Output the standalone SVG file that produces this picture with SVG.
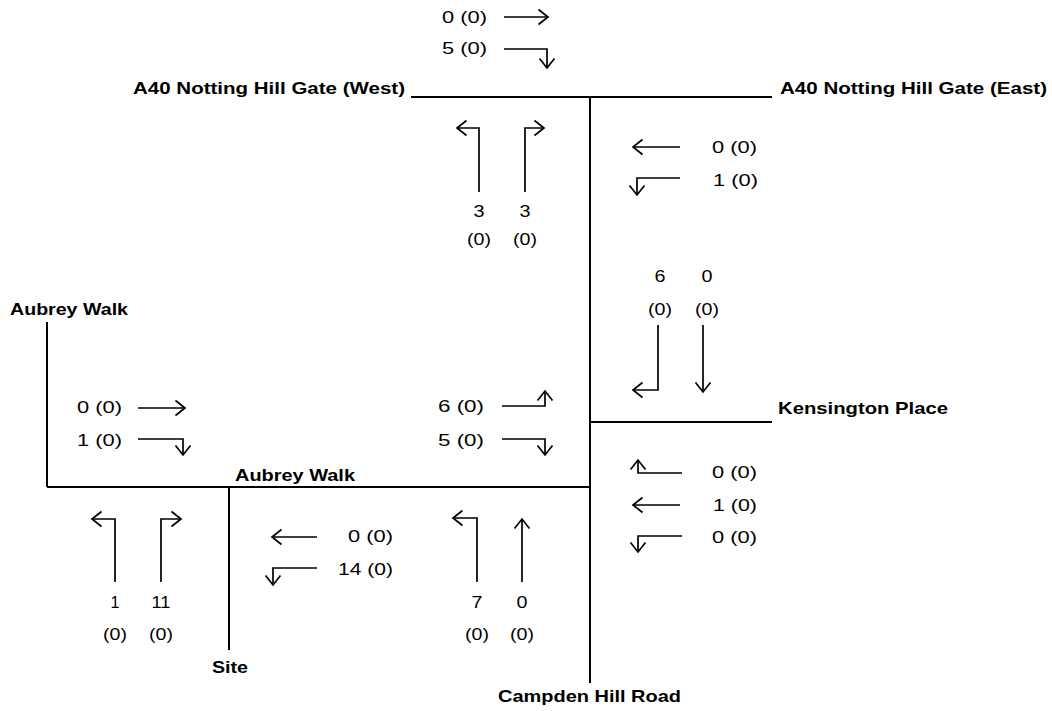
<svg xmlns="http://www.w3.org/2000/svg" width="1052" height="711" viewBox="0 0 1052 711">
<style>
text{font-family:"Liberation Sans",Arial,sans-serif;font-size:16.5px;fill:#000}
.lb{font-weight:bold}
.c{text-anchor:middle}
.road{stroke:#000;stroke-width:2;fill:none}
.arr{stroke:#000;stroke-width:1.7;fill:none;marker-end:url(#ah)}
</style>
<defs>
<marker id="ah" markerUnits="userSpaceOnUse" viewBox="-12 -10 14 20" refX="0" refY="0" markerWidth="14" markerHeight="20" orient="auto">
<path d="M-9.5,-7.5 L0,0 L-9.5,7.5" fill="none" stroke="#000" stroke-width="1.7"/>
</marker>
</defs>
<rect width="1052" height="711" fill="#fff"/>

<g id="roads">
<path class="road" d="M411,97 H772"/>
<path class="road" d="M590,97 V683"/>
<path class="road" d="M590,422 H772"/>
<path class="road" d="M47,487 H590"/>
<path class="road" d="M47,322 V487"/>
<path class="road" d="M229,487 V650"/>
</g>

<g id="label-west"><text class="lb" x="133" y="94" textLength="272" lengthAdjust="spacingAndGlyphs">A40 Notting Hill Gate (West)</text></g>
<g id="label-east"><text class="lb" x="780" y="94" textLength="267" lengthAdjust="spacingAndGlyphs">A40 Notting Hill Gate (East)</text></g>
<g id="label-aubrey-north"><text class="lb" x="10" y="315" textLength="118" lengthAdjust="spacingAndGlyphs">Aubrey Walk</text></g>
<g id="label-kensington"><text class="lb" x="778" y="414" textLength="170" lengthAdjust="spacingAndGlyphs">Kensington Place</text></g>
<g id="label-aubrey"><text class="lb" x="235" y="481" textLength="120" lengthAdjust="spacingAndGlyphs">Aubrey Walk</text></g>
<g id="label-site"><text class="lb" x="212" y="673" textLength="36" lengthAdjust="spacingAndGlyphs">Site</text></g>
<g id="label-campden"><text class="lb" x="498" y="702" textLength="183" lengthAdjust="spacingAndGlyphs">Campden Hill Road</text></g>

<g id="counts-west-approach">
<text x="442" y="23" textLength="45" lengthAdjust="spacingAndGlyphs">0 (0)</text>
<text x="442" y="54" textLength="45" lengthAdjust="spacingAndGlyphs">5 (0)</text>
</g>
<g id="counts-north-exit">
<text class="c" x="479" y="217" textLength="11" lengthAdjust="spacingAndGlyphs">3</text>
<text class="c" x="525" y="217" textLength="11" lengthAdjust="spacingAndGlyphs">3</text>
<text class="c" x="479" y="245" textLength="24" lengthAdjust="spacingAndGlyphs">(0)</text>
<text class="c" x="525" y="245" textLength="24" lengthAdjust="spacingAndGlyphs">(0)</text>
</g>
<g id="counts-east-approach">
<text x="712" y="153" textLength="45" lengthAdjust="spacingAndGlyphs">0 (0)</text>
<text x="713" y="186" textLength="45" lengthAdjust="spacingAndGlyphs">1 (0)</text>
</g>
<g id="counts-campden-north">
<text class="c" x="660" y="282" textLength="11" lengthAdjust="spacingAndGlyphs">6</text>
<text class="c" x="707" y="282" textLength="11" lengthAdjust="spacingAndGlyphs">0</text>
<text class="c" x="660" y="315" textLength="24" lengthAdjust="spacingAndGlyphs">(0)</text>
<text class="c" x="707" y="315" textLength="24" lengthAdjust="spacingAndGlyphs">(0)</text>
</g>
<g id="counts-aubrey-west">
<text x="77" y="413" textLength="45" lengthAdjust="spacingAndGlyphs">0 (0)</text>
<text x="77" y="446" textLength="45" lengthAdjust="spacingAndGlyphs">1 (0)</text>
</g>
<g id="counts-aubrey-east">
<text x="438" y="412" textLength="46" lengthAdjust="spacingAndGlyphs">6 (0)</text>
<text x="438" y="446" textLength="46" lengthAdjust="spacingAndGlyphs">5 (0)</text>
</g>
<g id="counts-kensington">
<text x="712" y="478" textLength="45" lengthAdjust="spacingAndGlyphs">0 (0)</text>
<text x="713" y="511" textLength="44" lengthAdjust="spacingAndGlyphs">1 (0)</text>
<text x="712" y="543" textLength="45" lengthAdjust="spacingAndGlyphs">0 (0)</text>
</g>
<g id="counts-site">
<text class="c" x="115" y="608" textLength="9" lengthAdjust="spacingAndGlyphs">1</text>
<text class="c" x="161" y="608" textLength="19" lengthAdjust="spacingAndGlyphs">11</text>
<text class="c" x="115" y="640" textLength="24" lengthAdjust="spacingAndGlyphs">(0)</text>
<text class="c" x="161" y="640" textLength="24" lengthAdjust="spacingAndGlyphs">(0)</text>
</g>
<g id="counts-aubrey-westbound">
<text x="348" y="542" textLength="45" lengthAdjust="spacingAndGlyphs">0 (0)</text>
<text x="338" y="575" textLength="55" lengthAdjust="spacingAndGlyphs">14 (0)</text>
</g>
<g id="counts-campden-south">
<text class="c" x="477" y="608" textLength="11" lengthAdjust="spacingAndGlyphs">7</text>
<text class="c" x="522" y="608" textLength="11" lengthAdjust="spacingAndGlyphs">0</text>
<text class="c" x="477" y="640" textLength="24" lengthAdjust="spacingAndGlyphs">(0)</text>
<text class="c" x="522" y="640" textLength="24" lengthAdjust="spacingAndGlyphs">(0)</text>
</g>

<g id="connectors">
<path class="arr" d="M504,17 H548"/>
<path class="arr" d="M504,49 H547 V68"/>
<path class="arr" d="M479,192 V128 H457"/>
<path class="arr" d="M525,192 V128 H544"/>
<path class="arr" d="M680,147 H633"/>
<path class="arr" d="M680,178 H637 V195"/>
<path class="arr" d="M658,325 V390 H633"/>
<path class="arr" d="M703,325 V392"/>
<path class="arr" d="M138,408 H185"/>
<path class="arr" d="M138,439 H183 V455"/>
<path class="arr" d="M502,406 H545 V391"/>
<path class="arr" d="M502,439 H545 V455"/>
<path class="arr" d="M682,473 H638 V460"/>
<path class="arr" d="M680,505 H633"/>
<path class="arr" d="M682,536 H638 V552"/>
<path class="arr" d="M115,582 V519 H92"/>
<path class="arr" d="M161,582 V519 H181"/>
<path class="arr" d="M317,537 H272"/>
<path class="arr" d="M317,568 H273 V585"/>
<path class="arr" d="M477,582 V518 H453"/>
<path class="arr" d="M522,582 V519"/>
</g>
</svg>
